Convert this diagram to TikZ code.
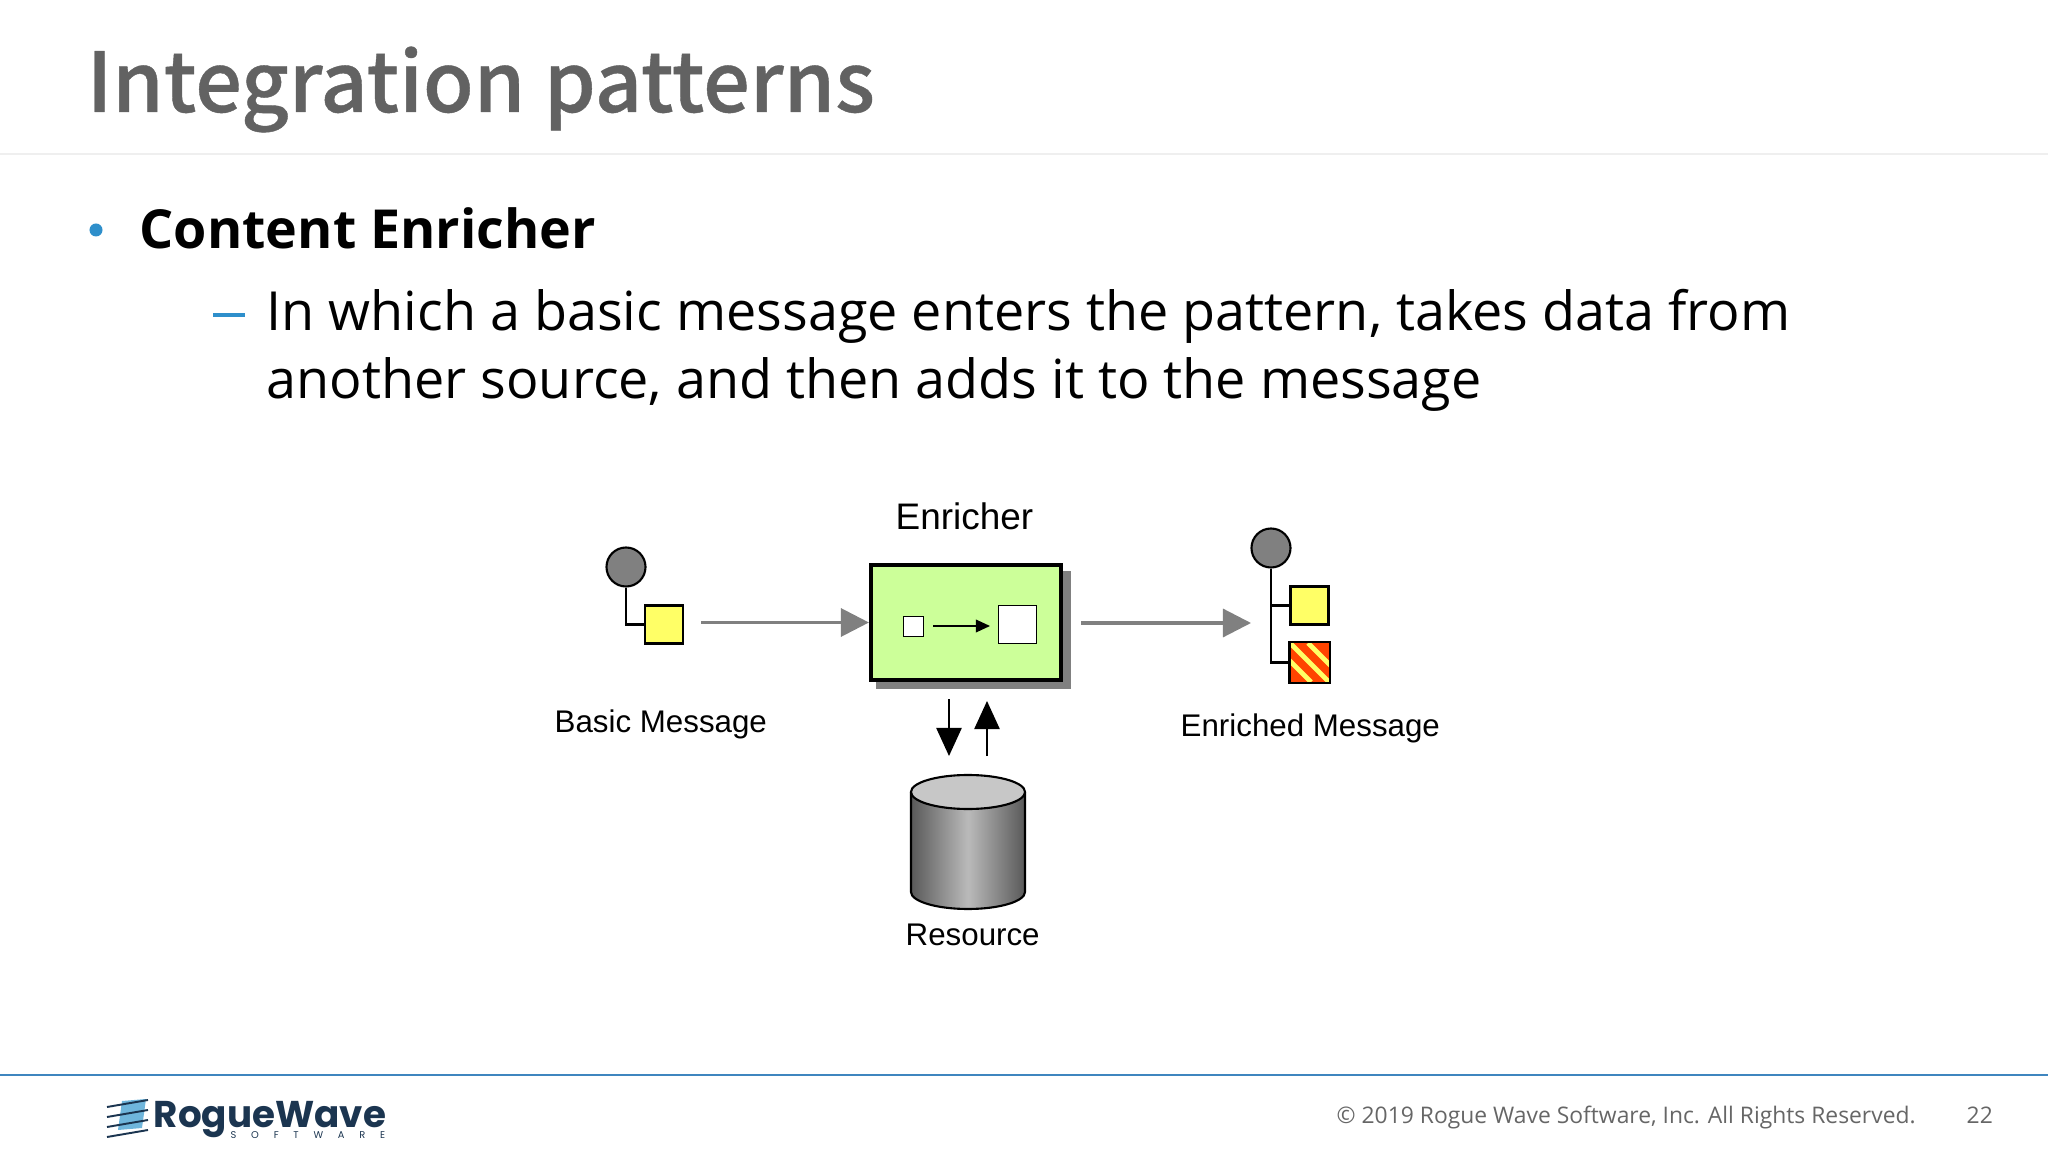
\documentclass[tikz,border=0pt]{standalone}
\usepackage{fontspec}
\usetikzlibrary{arrows.meta,shapes.geometric}
\setmainfont{Open Sans}
\newfontfamily\titlefont[FakeBold=0.5]{Noto Sans CJK SC Medium}
\newfontfamily\figfont{Liberation Sans}
\newfontfamily\logofont{Poppins}
\newfontfamily\logotiny[LetterSpace=150]{Poppins}
\definecolor{titlegrey}{HTML}{626262}
\definecolor{rulegrey}{HTML}{EFEFEF}
\definecolor{footblue}{HTML}{3F86BF}
\definecolor{footgrey}{HTML}{666666}
\definecolor{bulletblue}{HTML}{2E8FCB}
\definecolor{arrowgrey}{HTML}{808080}
\definecolor{boxgreen}{HTML}{CCFF99}
\definecolor{msgyellow}{HTML}{FFFF66}
\definecolor{stripered}{HTML}{FF4400}
\definecolor{logonavy}{HTML}{1B3550}
\definecolor{logoblue}{HTML}{6FB6DC}
\tikzset{
	bodytext/.style={anchor=base west,inner sep=0pt,font=\fontsize{15.33pt}{18pt}\selectfont},
	figlabel/.style={anchor=base west,inner sep=0pt,font=\figfont\fontsize{8.9pt}{10pt}\selectfont},
	foottext/.style={anchor=base west,inner sep=0pt,text=footgrey,font=\fontsize{6.5pt}{8pt}\selectfont},
	msgcircle/.style={circle,draw=black,fill=arrowgrey,line width=0.6pt,minimum size=39\unitpx,inner sep=0pt},
	msgsquare/.style={rectangle,draw=black,fill=msgyellow,line width=0.6pt,minimum size=38\unitpx,inner sep=0pt},
	whitesquare/.style={rectangle,draw=black,fill=white,line width=0.5pt,inner sep=0pt},
	treeline/.style={draw=black,line width=0.6pt},
	greyarrow/.style={draw=arrowgrey,line width=0.9pt,-{Triangle[length=8pt,width=8pt]}},
	blackarrow/.style={draw=black,line width=0.5pt,-{Triangle[length=8pt,width=7.2pt]}}
}
\newcommand{\unitpx}{*0.2845pt}
\begin{document}
\begin{tikzpicture}[x=0.01cm,y=-0.01cm]
	\useasboundingbox (0,0) rectangle (2048,1152);
	% slide frame
	\node[anchor=base west,inner sep=0pt,text=titlegrey,font=\titlefont\fontsize{23.5pt}{27pt}\selectfont] (title) at (86,112) {Integration patterns};
	\coordinate (ruleL) at (0,154);
	\coordinate (ruleR) at (2048,154);
	\draw[rulegrey,line width=0.5pt] (ruleL) -- (ruleR);
	\node[circle,fill=bulletblue,inner sep=0pt,minimum size=13\unitpx] (bullet) at (96,230) {};
	\node[bodytext,font=\bfseries\fontsize{15.3pt}{18pt}\selectfont] (head) at (139,249) {Content Enricher};
	\node[rectangle,fill=bulletblue,inner sep=0pt,minimum width=32\unitpx,minimum height=4\unitpx] (dash) at (229,315) {};
	\node[bodytext] (lineA) at (266,331) {In which a basic message enters the pattern, takes data from};
	\node[bodytext] (lineB) at (266,399) {another source, and then adds it to the message};
	% basic message
	\node[msgcircle] (basiccirc) at (626,567) {};
	\node[msgsquare] (basicsq) at (664,624.5) {};
	\draw[treeline] (basiccirc.south) |- (basicsq.west);
	\node[figlabel] (basiclabel) at (554,732) {Basic Message};
	% enricher
	\node[rectangle,fill=arrowgrey,inner sep=0pt,minimum width=195\unitpx,minimum height=118\unitpx] (shadow) at (973.5,630) {};
	\node[rectangle,draw=black,fill=boxgreen,line width=1.15pt,inner sep=0pt,minimum width=190\unitpx,minimum height=115\unitpx] (enricher) at (966,622.5) {};
	\node[whitesquare,minimum size=20\unitpx] (smallsq) at (913.5,626.5) {};
	\node[whitesquare,minimum size=38\unitpx] (bigsq) at (1017.5,624.5) {};
	\coordinate (innerL) at (933,626);
	\coordinate (innerR) at (990,626);
	\draw[draw=black,line width=0.4pt,-{Triangle[length=4pt,width=3.6pt]}] (innerL) -- (innerR);
	\node[figlabel,font=\figfont\fontsize{10.5pt}{12pt}\selectfont] (enrichlabel) at (895,530) {Enricher};
	\coordinate (basicout) at (701,622.5);
	\draw[greyarrow] (basicout) -- (enricher.west);
	% enriched message
	\coordinate (enrichout) at (1081,623);
	\coordinate (enrichin) at (1251,623);
	\draw[greyarrow] (enrichout) -- (enrichin);
	\node[msgcircle] (richcirc) at (1271,548) {};
	\node[msgsquare] (richsqA) at (1309.5,605.5) {};
	\node[msgsquare] (richsqB) at (1309.5,662.5) {};
	\draw[treeline] (richcirc.south) |- (richsqA.west);
	\draw[treeline] (richcirc.south) |- (richsqB.west);
	\begin{scope}
		\clip (richsqB.south west) rectangle (richsqB.north east);
		\fill[stripered] (richsqB.south west) rectangle (richsqB.north east);
		\foreach \a in {-18,0,18}{
			\draw[msgyellow,line width=1.4pt] (1290+\a,643) -- (1329+\a,682);
		}
	\end{scope}
	\draw[black,line width=0.6pt] (richsqB.south west) rectangle (richsqB.north east);
	\node[figlabel] (richlabel) at (1180,736) {Enriched Message};
	% resource
	\fill[left color=black!65,right color=black!65,middle color=black!27] (911,792) -- (911,892) arc[start angle=180,end angle=0,x radius=57,y radius=17] -- (1025,792) -- cycle;
	\draw[black,line width=0.6pt] (911,792) -- (911,892) arc[start angle=180,end angle=0,x radius=57,y radius=17] -- (1025,792);
	\node[ellipse,draw=black,fill=black!22,line width=0.6pt,minimum width=114\unitpx,minimum height=34\unitpx,inner sep=0pt] (restop) at (968,792) {};
	\node[figlabel] (reslabel) at (905,945) {Resource};
	\coordinate (downA) at (949,699);
	\coordinate (downB) at (949,756);
	\coordinate (upA) at (987,756);
	\coordinate (upB) at (987,701);
	\draw[blackarrow] (downA) -- (downB);
	\draw[blackarrow] (upA) -- (upB);
	% footer
	\coordinate (footL) at (0,1075);
	\coordinate (footR) at (2048,1075);
	\draw[footblue,line width=0.6pt] (footL) -- (footR);
	\node[foottext] (copyright) at (1336,1123) {© 2019 Rogue Wave Software, Inc. All Rights Reserved.};
	\node[foottext] (pagenum) at (1966,1123) {22};
	% logo
	\fill[logoblue] (122,1101) -- (146,1099) -- (142,1128) -- (118,1130) -- cycle;
	\foreach \a in {0,10,20,30}{
		\draw[logonavy,line width=0.55pt] (107,1107+\a) -- (148,1100+\a);
	}
	\node[anchor=base west,inner sep=0pt,text=logonavy,font=\logofont\bfseries\fontsize{10.6pt}{12pt}\selectfont] (logoname) at (153,1127) {RogueWave};
	\node[anchor=base west,inner sep=0pt,text=logonavy,font=\logotiny\fontsize{2.8pt}{3pt}\selectfont] (logosub) at (230,1138) {SOFTWARE};
\end{tikzpicture}
\end{document}
